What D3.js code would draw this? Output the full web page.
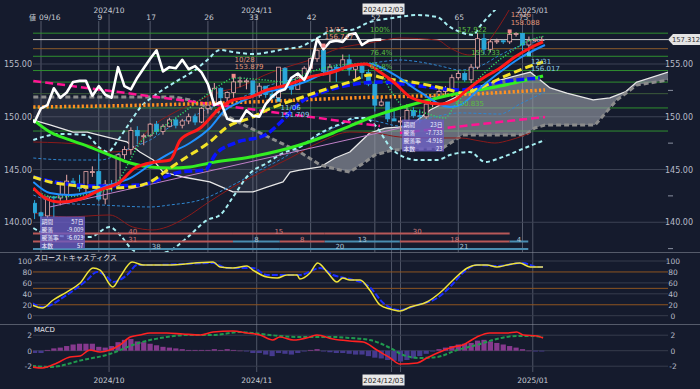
<!DOCTYPE html>
<html>
<head>
<meta charset="utf-8">
<script src="https://cdn.jsdelivr.net/npm/d3@7"></script>
<style>
body { margin: 0; background: #151b2d; }
svg { display: block; }
text { font-family: "DejaVu Sans", sans-serif; }
.jp { font-family: "Noto Sans CJK JP", sans-serif; }
</style>
</head>
<body>
<svg id="chart" width="700" height="389"></svg>
<script>
// ---- data (bar index -1 = 09/13 ... 78 = 2025/01/02) ----
const firstBar = -1;
const opens  = [141.8,140.9,140.6,142.4,142.3,142.6,143.9,143.6,143.2,144.8,144.8,142.2,143.6,143.5,146.4,146.9,148.7,148.2,148.2,149.3,148.6,149.1,149.7,149.2,149.6,150.0,149.5,150.8,151.1,152.7,151.8,152.3,153.3,153.4,153.4,152.0,152.9,152.1,151.8,154.6,152.9,152.6,153.7,154.6,155.5,156.3,154.3,154.7,154.6,155.4,154.5,154.8,154.2,153.1,151.1,151.4,149.8,149.6,149.6,150.6,150.1,150.0,151.2,151.9,152.4,152.6,153.7,154.1,153.5,154.7,157.4,156.4,157.1,157.2,157.1,157.8,157.9,156.8,157.2,157.3];
const highs  = [142.1,141.0,142.4,142.5,143.9,144.5,144.2,144.5,144.8,145.3,146.5,144.0,144.0,146.5,147.2,149.0,149.1,148.4,149.4,149.6,149.3,149.9,149.9,149.8,150.3,150.3,150.9,151.4,153.2,152.8,152.4,153.879,153.8,153.6,153.4,153.2,152.9,152.4,154.7,154.7,153.2,153.9,154.8,155.6,156.4,156.747,155.0,155.0,155.9,155.9,155.0,154.9,154.5,153.5,151.9,151.4,150.8,150.0,151.2,150.9,150.7,151.3,152.0,152.8,152.9,154.0,154.4,154.3,155.0,157.922,157.9,157.3,157.4,157.3,158.088,158.0,157.9,157.6,157.4,157.6];
const lows   = [140.3,139.6,140.4,140.5,141.6,141.8,143.4,142.9,142.8,144.3,142.0,141.7,142.9,143.4,146.0,146.4,147.4,147.3,148.1,148.3,148.3,149.0,148.9,148.9,149.3,149.2,149.4,150.3,151.0,151.5,151.4,151.8,152.8,152.6,151.8,151.8,151.8,151.75,151.709,152.7,152.1,152.6,153.4,154.2,155.2,153.9,153.3,153.3,154.4,153.9,153.6,153.6,152.9,150.5,151.0,149.5,149.6,148.646,149.4,149.9,149.4,149.8,150.9,151.7,151.9,152.5,153.5,153.3,153.2,154.5,155.9,156.1,156.9,156.9,156.9,157.6,156.2,156.017,157.1,157.0];
const closes = [140.9,140.6,142.4,142.3,142.6,143.9,143.6,143.2,144.8,144.8,142.2,143.6,143.5,146.4,146.9,148.7,148.2,148.2,149.3,148.6,149.1,149.7,149.2,149.6,150.0,149.5,150.8,151.1,152.7,151.8,152.3,153.3,153.4,153.4,152.0,152.9,152.1,151.8,154.7,152.9,152.6,153.7,154.6,155.5,156.3,154.3,154.7,154.6,155.4,154.5,154.8,154.2,153.1,151.1,151.4,149.8,149.6,149.6,150.6,150.1,150.0,151.2,151.9,152.4,152.6,153.7,154.1,153.5,154.7,157.4,156.4,157.1,157.2,157.1,157.8,157.9,156.8,157.2,157.3,157.312];
const lastPrice = 157.312;
const chikouShift = 25;

// indicator lines: [bar, price]
const ichiSpanA = [[-1.2,149.69],[1.4,149.22],[5,148.55],[7.2,148.55],[10.3,148.08],[13.4,147.61],[15.4,146.66],[17.5,145.9],[19,144.76],[22.1,144.29],[26.3,143.82],[29.9,142.87],[33,142.87],[35.2,143.34],[37.7,143.82],[38.8,144.76],[40.3,144.95],[43.5,145.24],[45.8,146.09],[48.1,146.66],[51.2,148.46],[53.6,148.93],[57.5,149.12],[60.6,150.64],[63.7,151.59],[67.6,152.73],[71.5,153.48],[76.2,154.24],[79.3,152.73],[81.9,152.25],[86,151.59],[88.6,151.78],[91,152.35],[92.8,153.29],[97.7,154.24]];
const ichiSpanB = [[-1.2,151.87],[20.9,151.87],[23.2,151.59],[27.1,150.64],[31,149.41],[35.7,148.0],[40.3,146.66],[43.5,145.43],[46.6,144.95],[48.1,144.76],[50.5,145.71],[52,146.37],[54.8,146.85],[62.6,147.04],[65.7,148.27],[75.4,148.27],[76.9,148.93],[78.5,149.22],[86.3,149.22],[89.7,151.59],[92.8,153.01],[97.7,153.48]];
const bbOuterUp = [[-1.2,147.8],[3,148.37],[6.9,148.27],[9.2,147.04],[10.4,146.66],[12,147.8],[13.9,149.5],[15.4,150.83],[17.8,152.06],[20.9,153.29],[24,154.43],[25.9,155.38],[27.9,156.33],[29.9,156.14],[33,155.95],[35.7,156.14],[38,156.42],[40.3,156.61],[43,157.46],[45.8,158.22],[48.1,158.22],[51.2,158.98],[54.8,159.36],[58.6,159.64],[61.7,159.45],[63.7,158.51],[65.7,157.94],[67.3,157.75],[68.4,158.6],[70.7,160.12],[71.5,160.6]];
const bbOuterLow = [[-1.2,139.45],[1.4,138.79],[7.6,138.6],[10.7,139.55],[12.3,138.79],[14.3,137.37],[16.5,136.9],[19.6,137.18],[22.7,138.51],[25.9,140.21],[27.9,140.69],[29.9,142.39],[32.6,144.67],[35.2,145.62],[37.7,146.56],[40.3,147.13],[43.5,148.46],[46.6,149.31],[48.9,149.88],[50.5,149.88],[52,149.22],[54.8,146.85],[58.6,145.9],[61.7,145.9],[63.7,146.37],[66.8,146.66],[69.2,145.71],[71.5,146.09],[74.6,146.85],[78.5,147.8]];
const bbInnerUp = [[-1.2,146.09],[4.5,145.9],[9.2,145.9],[13.9,147.04],[17,147.8],[20.1,149.03],[23.2,149.88],[26.3,150.83],[31,151.78],[35.7,153.01],[40.3,153.67],[45,154.24],[48.9,154.72],[52.8,155.19],[55.9,155.38],[59,155.19],[62.2,154.81],[65.3,154.43],[68.4,154.81],[71.5,155.85],[74.6,156.71],[78.5,157.27]];
const bbInnerLow = [[-1.2,142.58],[3,141.82],[9.2,141.64],[17,141.45],[20.1,141.64],[24.8,142.11],[29.9,143.53],[34.1,144.95],[37.7,146.09],[41.9,147.8],[46.6,149.22],[49.7,149.88],[52.8,149.5],[55.9,149.12],[60.6,149.88],[65.3,150.36],[71.5,150.26],[74.6,151.21],[78.5,152.35]];
const envUp = [[-1.2,147.61],[7.6,147.32],[10.7,146.66],[13.9,146.85],[17,148.93],[20.9,150.45],[24.8,151.59],[27.1,152.25],[31,152.82],[34.9,153.96],[38.8,154.81],[41.9,155.38],[46.6,156.52],[51.2,156.99],[55.9,157.46],[61.7,157.27],[63.7,156.52],[66.8,155.85],[69.2,156.8],[71.5,158.7],[73.1,160.31]];
const envLow = [[-1.2,140.88],[4,140.5],[10.7,140.69],[14.3,139.55],[17.4,139.27],[19.6,139.55],[22.7,140.5],[25.9,141.82],[29.9,143.34],[34.1,144.67],[38.8,146.09],[43.5,147.61],[48.1,148.55],[52,148.46],[55.9,148.08],[60.6,147.99],[65.3,147.99],[68.4,147.7],[70.7,147.51],[73.1,147.8],[76.2,148.46]];
const tenkan = [[-1.2,143.06],[2.2,142.39],[7.6,142.68],[10.7,143.25],[12.3,144.19],[13.9,145.9],[15.4,147.51],[17.8,148.55],[20.1,149.5],[24.8,151.59],[27.9,153.01],[30.2,153.67],[34.9,153.48],[38,153.29],[41.9,154.24],[46.6,154.91],[52,155.09],[54.4,152.54],[56.7,150.83],[59.8,150.36],[62.9,149.88],[64.5,151.11],[66.8,152.73],[69.9,154.62],[73.1,156.14],[76.2,157.27],[78.5,157.65]];
const maShort = [[-1.2,143.25],[0.6,142.3],[3,141.92],[6.1,142.2],[9.2,143.06],[12.3,143.82],[14.6,145.14],[17.8,145.71],[20.1,145.9],[21.7,147.8],[24.8,148.93],[27.9,150.83],[29.9,151.59],[32.6,151.87],[35.2,152.54],[38.3,153.01],[41.9,153.77],[45.5,154.24],[48.1,154.81],[50.5,155.0],[52.8,154.24],[55.1,153.2],[57.5,151.87],[59.8,151.4],[62.2,151.21],[64.5,151.59],[66,152.35],[68.4,153.48],[71.5,154.62],[73.8,155.66],[76.2,156.52],[78.2,157.09]];
const maMid = [[-1.2,143.82],[1.4,142.77],[4.5,142.58],[7.6,142.87],[10.7,143.53],[13.9,144.19],[17,145.43],[20.1,146.56],[23.2,147.51],[26.3,148.93],[28.7,150.64],[31,151.4],[34.1,152.16],[38,152.73],[41.1,153.29],[43.5,153.96],[46.6,154.62],[51.2,155.0],[55.1,153.96],[59,152.35],[63.7,150.92],[65.3,151.11],[68.4,152.73],[71.5,154.24],[74.6,155.57],[78.5,156.8]];
const maBlue = [[-1.2,144.29],[3,143.72],[9.2,143.44],[15.4,143.53],[21.7,144.76],[25.6,144.95],[27.1,146.37],[30.2,147.51],[34.9,148.27],[37.7,149.69],[40.3,151.3],[43.5,152.25],[48.1,153.01],[52.8,153.29],[59,152.91],[65.3,152.54],[71.5,153.29],[77.7,153.67]];
const maYellow = [[-1.2,144.29],[1.4,143.82],[4.5,143.53],[7.6,143.34],[10.7,143.25],[13.9,143.34],[17,143.82],[20.1,145.14],[22.7,146.18],[26.3,147.61],[29,149.03],[33,149.98],[35.2,150.64],[40.3,151.78],[45.5,152.82],[48.1,153.29],[51.2,153.96],[53.3,153.67],[58.6,153.2],[63.7,152.54],[65.7,152.25],[68.4,152.73],[72,153.77],[75.4,154.62],[78.2,155.19]];
const maLong = [[-1.2,150.92],[17,151.11],[32.6,151.4],[48.1,151.78],[63.7,152.06],[78.5,152.54]];
const regCurve = [[-1.2,149.7],[1.4,148.55],[4.5,147.8],[7.6,147.13],[10.7,146.37],[13.9,145.62],[17,145.24],[20.1,145.14],[23.2,145.24],[26.3,145.62],[32.6,146.18],[40.3,147.32],[45.5,148.46],[48.1,149.12],[52,150.07],[55.9,150.83],[63.7,152.06],[71.5,152.91],[78.2,153.86]];
const trendDown = [[-1.2,153.39],[52.8,149.12]];
const trendUp = [[55.9,148.46],[78.5,149.98]];
const trendThin = [[1.4,141.45],[55.9,148.93]];

const fibLevels = [157.922,155.733,154.379,153.284,152.19,150.835,148.646];
const fibPctLabels = [["100%",157.922],["76.4%",155.733],["61.8%",154.379]];
const fibPriceLabels = [["157.922",157.922,64.9],["155.733",155.733,67.0],["150.835",150.835,64.5]];
const resistLevel = 156.45;

const priceTicks = [155,150,145,140];
const barTicks = [9,17,26,33,42,52,65,75];
const monthTicks = [["2024/10",10.6],["2024/11",33.6],["2025/01",76.6]];
const monthLineBars = [10.6,33.6,54.6,76.6];
const cursorBar = 56, cursorLabel = "2024/12/03";

const highMarks = [["10/28",30,153.879],["11/15",44,156.747],["12/26",73,158.088]];
const lowMarks = [["11/06",37,151.709],["12/31",76,156.017]];

// wave counts: [fromBar, toBar, label, kind]
const waveRow1 = [[-1.3,29.9,"40","r"],[29.9,44.2,"15","r"],[44.2,73,"30","r"]];
const waveRow2 = [[-1.3,29.9,"31","r"],[29.9,37.2,"8","b"],[37.2,44.2,"8","r"],[44.2,55.9,"13","b"],[55.9,73,"18","r"],[73,75.9,"4","b"]];
const waveRow3 = [[-1.3,37.2,"38","b"],[37.2,55.9,"20","b"],[55.9,75.9,"21","b"]];
const box1 = [["期間","57日"],["騰落","-9.009"],["騰落率","-6.023"],["本数","57"]];
const box2 = [["期間","23日"],["騰落","-7.733"],["騰落率","-4.916"],["本数","23"]];

// slow stochastics [bar, value]
const stochK = [[-1.4,19.6],[0.2,14.1],[1.9,28.7],[4,43.3],[6.1,59.8],[8.1,87.2],[9.2,83.5],[11.2,52.5],[12.3,70.7],[14.2,98.2],[15.9,92.7],[19.6,92.7],[26.8,98.2],[27.9,89],[29.9,87.2],[32.1,90.9],[33,83.5],[35.2,70.7],[36.8,68.9],[38.3,74.4],[39.9,74.4],[40.3,67.1],[41.9,78.1],[43.1,96.3],[44.7,78.1],[46.1,61.6],[47,68.9],[48.1,65.3],[49.7,65.3],[51.2,47],[52.8,19.6],[54.4,12.2],[55.9,8.6],[57.5,15.9],[60.1,25],[62.1,41.5],[64.2,65.3],[66.4,87.2],[67.9,92.7],[69.5,92.7],[71,89],[72.6,92.7],[74.6,96.3],[76.2,89],[78.2,89]];
const stochD = [[-1.4,23.2],[0.3,15.9],[4,37.8],[7.2,65.3],[8.7,79.9],[10.3,70.7],[11.2,61.6],[13.4,74.4],[15,92.7],[17.4,92.7],[26.8,96.3],[29,87.2],[33,87.2],[35.2,74.4],[37.2,74.4],[40.3,74.4],[43.5,87.2],[45.5,74.4],[48.1,67.1],[51.2,52.5],[53.3,23.2],[55.9,10.4],[58.6,19.6],[61.7,32.4],[63.7,52.5],[65.7,78.1],[67.9,92.7],[71,90.9],[75.1,96.3],[77.3,89],[78.2,89]];
const stochTicks = [100,80,60,40,20,0];

// MACD [bar, value]
const macdLine = [[-1.4,-2.1],[0.2,-2.23],[2.5,-1.59],[4.5,-0.81],[6.1,-0.68],[7.6,0.09],[9.2,-0.17],[10.7,0.09],[12.3,0.74],[13.9,1.77],[15.4,2.03],[17,2.28],[19.6,2.28],[22.1,2.15],[24.8,2.03],[26.8,2.41],[29.9,2.54],[32.1,2.28],[34.1,2.03],[36.1,1.38],[37.2,1.77],[39.3,1.38],[41.9,1.77],[43,2.03],[45.5,1.51],[48.1,1.25],[50.2,1.12],[52.3,0.09],[54.4,-0.94],[55.9,-1.72],[58.6,-1.59],[60.1,-0.94],[62.1,-0.17],[64.2,0.48],[65.7,0.74],[67.9,1.77],[69.9,2.28],[72.6,2.28],[74.1,2.41],[75.1,2.03],[77.3,1.9],[78.2,1.64]];
const macdSignal = [[-1.4,-1.97],[1.4,-2.1],[6.5,-1.2],[10.7,-0.43],[14.3,0.74],[17,1.38],[19.6,1.77],[22.7,2.03],[26.8,2.03],[31,2.41],[33,2.28],[37.2,1.9],[40.3,1.77],[45.5,1.77],[48.1,1.64],[51.2,1.38],[54.4,0.35],[56.4,-0.55],[59,-0.94],[61.7,-0.81],[64.8,0.09],[67.9,0.74],[70.4,1.38],[74.1,1.9],[76.2,1.9],[78.2,1.77]];
const macdHist = [-0.3,-0.3,0.1,0.3,0.4,0.6,0.8,0.9,0.9,0.9,0.5,0.4,0.6,1.1,1.4,1.5,1.2,1.1,0.9,0.7,0.5,0.4,0.3,0.2,0.1,0.1,0.1,0.1,0.2,0.1,0.2,0.1,0.0,-0.1,-0.3,-0.3,-0.5,-0.7,-0.3,-0.4,-0.5,-0.3,-0.1,0.1,0.2,-0.1,-0.2,-0.3,-0.3,-0.4,-0.5,-0.5,-0.7,-0.9,-1.0,-1.2,-1.3,-1.4,-1.2,-1.0,-0.7,-0.4,-0.1,0.2,0.4,0.6,0.8,0.9,1.0,1.3,1.4,1.2,1.0,0.8,0.6,0.4,0.2,0.0,-0.1,-0.1];
const macdTicks = [2,0,-2];

// ---- scales ----
const svg = d3.select("#chart");
const W = 700, H = 389, plotL = 33, plotR = 668;
const x = d3.scaleLinear().domain([0, 78]).range([41, 41 + 78 * 6.42]);
const y = d3.scaleLinear().domain([150, 155]).range([116.75, 64]);
const yS = d3.scaleLinear().domain([0, 100]).range([315.7, 261]);
const yM = d3.scaleLinear().domain([-2, 2]).range([366.2, 335.2]);

svg.append("rect").attr("width", W).attr("height", H).attr("fill", "#151b2d");

const defs = svg.append("defs");
function addClip(id, top, bottom) {
  defs.append("clipPath").attr("id", id).append("rect")
    .attr("x", plotL).attr("y", top).attr("width", plotR - plotL).attr("height", bottom - top);
}
addClip("clipMain", 10, 252);
addClip("clipStoch", 253, 323);
addClip("clipMacd", 325, 373);

function hline(g, yy, color, w, x1, x2) {
  g.append("line").attr("x1", x1 === undefined ? plotL : x1).attr("x2", x2 === undefined ? plotR : x2)
    .attr("y1", yy).attr("y2", yy).attr("stroke", color).attr("stroke-width", w || 1);
}
function path(g, data, ys, color, width, dash, curve) {
  g.append("path").datum(data)
    .attr("d", d3.line().x(d => x(d[0])).y(d => ys(d[1])).curve(curve || d3.curveMonotoneX))
    .attr("fill", "none").attr("stroke", color).attr("stroke-width", width)
    .attr("stroke-dasharray", dash || null).attr("stroke-linejoin", "round");
}
function txt(g, tx, ty, s, color, size, anchor, cls) {
  return g.append("text").attr("x", tx).attr("y", ty).text(s).attr("fill", color)
    .attr("font-size", size).attr("text-anchor", anchor || "start").attr("class", cls || null);
}

// ---- panel frames ----
hline(svg, 252.5, "#555b6a", 1, 0, W);
hline(svg, 324.5, "#555b6a", 1, 0, W);

// vertical lines
const vl = svg.append("g");
[0].concat(barTicks).forEach(b => {
  vl.append("line").attr("x1", x(b)).attr("x2", x(b)).attr("y1", 21).attr("y2", 252)
    .attr("stroke", "#8a90a0").attr("stroke-opacity", 0.55);
});
monthLineBars.concat([cursorBar]).forEach(b => {
  vl.append("line").attr("x1", x(b)).attr("x2", x(b)).attr("y1", 14).attr("y2", 372)
    .attr("stroke", "#8a90a0").attr("stroke-opacity", 0.5);
});

// ---- main panel ----
const gm = svg.append("g").attr("clip-path", "url(#clipMain)");
priceTicks.forEach(p => hline(gm, y(p), "#3d4354", 1));
fibLevels.forEach((p, i) => hline(gm, y(p), i === 4 ? "#3b5a3b" : "#2f8f2f", 1));
hline(gm, y(resistLevel), "#8b5a2b", 1);
hline(gm, y(lastPrice), "#c8c8c8", 1);

// cloud
const cloudLine = d3.line().x(d => x(d[0])).y(d => y(d[1]));
const bFirst = ichiSpanB[0][0], bLast = ichiSpanB[ichiSpanB.length - 1][0];
defs.append("clipPath").attr("id", "cloudUp").append("path")
  .attr("d", cloudLine([[bFirst, 170]].concat(ichiSpanB, [[bLast, 170]])));
defs.append("clipPath").attr("id", "cloudDown").append("path")
  .attr("d", cloudLine([[bFirst, 130]].concat(ichiSpanB, [[bLast, 130]])));
const cloudPoly = cloudLine(ichiSpanA.concat(ichiSpanB.slice().reverse())) + "Z";
gm.append("g").attr("clip-path", "url(#cloudUp)").append("path")
  .attr("d", cloudPoly).attr("fill", "#9a9ea8").attr("fill-opacity", 0.62);
gm.append("g").attr("clip-path", "url(#cloudDown)").append("path")
  .attr("d", cloudPoly).attr("fill", "#6c7282").attr("fill-opacity", 0.2);
path(gm, ichiSpanA, y, "#e8e8e8", 1.3, null, d3.curveLinear);
path(gm, ichiSpanB, y, "#8c8c8c", 3, "5,3", d3.curveLinear);

// bands
path(gm, envUp, y, "#8b1a1a", 1);
path(gm, envLow, y, "#8b1a1a", 1);
path(gm, bbInnerUp, y, "#2f86d0", 1, "3,2");
path(gm, bbInnerLow, y, "#2f86d0", 1, "3,2");
path(gm, bbOuterUp, y, "#a6eef2", 2, "4,3");
path(gm, bbOuterLow, y, "#a6eef2", 2, "4,3");

// candles
const cw = 4;
const candles = gm.append("g");
d3.range(opens.length).forEach(i => {
  const b = firstBar + i, o = opens[i], c = closes[i];
  const up = c >= o;
  const col = up ? "#e9a9a9" : "#2ba7d9";
  candles.append("line").attr("x1", x(b)).attr("x2", x(b))
    .attr("y1", y(highs[i])).attr("y2", y(lows[i])).attr("stroke", col);
  const top = y(Math.max(o, c)), bot = y(Math.min(o, c));
  candles.append("rect").attr("x", x(b) - cw / 2).attr("y", top)
    .attr("width", cw).attr("height", Math.max(1, bot - top))
    .attr("fill", up ? "#151b2d" : col).attr("stroke", col).attr("stroke-width", 0.8);
});

// moving averages and lines
path(gm, trendThin, y, "#c080c8", 1, null, d3.curveLinear);
path(gm, tenkan, y, "#33d466", 1.5, "1.2,1.8");
path(gm, trendDown, y, "#ff1493", 2.5, "8,4", d3.curveLinear);
path(gm, trendUp, y, "#ff1493", 2.5, "8,4", d3.curveLinear);
path(gm, maLong, y, "#ff9020", 3.5, "2.2,2.2");
path(gm, regCurve, y, "#33ee22", 3);
path(gm, maBlue, y, "#0a14ff", 3.5, "8,3");
path(gm, maYellow, y, "#f2e227", 3, "8,4");
path(gm, maMid, y, "#1e90ff", 2);
path(gm, maShort, y, "#ff1a1a", 3);

// chikou span
const chikou = closes.map((c, i) => [firstBar + i - chikouShift, c]).filter(d => d[0] >= -2);
path(gm, chikou, y, "#ffffff", 2.6, null, d3.curveLinear);

// high / low marks
highMarks.forEach(m => {
  gm.append("rect").attr("x", x(m[1]) - 2).attr("y", y(m[2]) - 2).attr("width", 4).attr("height", 4).attr("fill", "#f28a8a");
  txt(gm, x(m[1]) + 1, y(m[2]) - 14, m[0], "#e0987a", 7);
  txt(gm, x(m[1]) + 1, y(m[2]) - 6.5, m[2].toFixed(3), "#e0987a", 7);
});
lowMarks.forEach(m => {
  gm.append("rect").attr("x", x(m[1]) - 2).attr("y", y(m[2]) - 1).attr("width", 4).attr("height", 4).attr("fill", "#4cc6f2");
  txt(gm, x(m[1]) + 2, y(m[2]) + 11, m[0], "#8ccbe8", 7);
  txt(gm, x(m[1]) + 2, y(m[2]) + 18, m[2].toFixed(3), "#8ccbe8", 7);
});

// fibonacci labels
fibPctLabels.forEach(f => txt(gm, 370, y(f[1]) - 1.5, f[0], "#5cc040", 7));
fibPriceLabels.forEach(f => txt(gm, x(f[2]), y(f[1]) - 1.5, f[0], "#5cc040", 7));

// wave count bars
[[waveRow1, 233.5], [waveRow2, 241.5], [waveRow3, 249]].forEach(row => {
  row[0].forEach(s => {
    const col = s[3] === "r" ? "#b85858" : "#4a8db0";
    hline(gm, row[1], col, 2, x(s[0]), x(s[1]));
    txt(gm, (x(s[0]) + x(s[1])) / 2, row[1], s[2], s[3] === "r" ? "#d07a7a" : "#a8c4d8", 7, "middle");
  });
});

// measure boxes
function measureBox(bx, by, w, rows) {
  gm.append("rect").attr("x", bx).attr("y", by).attr("width", w).attr("height", 32)
    .attr("fill", "#6a5cc4").attr("fill-opacity", 0.78);
  rows.forEach((r, i) => {
    txt(gm, bx + 1.5, by + 7 + i * 8, r[0], "#f0f0ff", 5.8, "start", "jp");
    txt(gm, bx + w - 1.5, by + 7 + i * 8, r[1], "#f0f0ff", 5.8, "end", "jp");
  });
}
measureBox(40, 216.5, 45, box1);
measureBox(402, 119.5, 42, box2);

// main axes labels
priceTicks.forEach(p => {
  txt(svg, 32, y(p) + 3, p.toFixed(2), "#b8bcc8", 8, "end");
  txt(svg, 665, y(p) + 3, p.toFixed(2), "#b8bcc8", 8);
});
[152.5, 147.5, 142.5, 137.5].forEach(p => hline(svg, y(p), "#8a90a0", 1, 668, 673));

// current price tag
const lp = y(lastPrice);
svg.append("path").attr("d", `M668,${lp} L673,${lp - 5.5} L700,${lp - 5.5} L700,${lp + 5.5} L673,${lp + 5.5} Z`)
  .attr("fill", "#e4e4e4");
txt(svg, 686, lp + 2.6, lastPrice.toFixed(3), "#333333", 6.8, "middle");

// top date row
txt(svg, 29, 20, "値", "#c8ccd4", 7, "start", "jp");
txt(svg, 39, 20, "09/16", "#c8ccd4", 7.5);
barTicks.forEach(b => txt(svg, x(b) + 1, 20, String(b), "#c8ccd4", 7.5, "middle"));
monthTicks.forEach(m => txt(svg, x(m[1]), 12.5, m[0], "#c8ccd4", 7.5, "middle"));
function cursorTag(cy) {
  svg.append("rect").attr("x", x(cursorBar) - 38).attr("y", cy - 5.5).attr("width", 42).attr("height", 11).attr("fill", "#e8e8e8");
  txt(svg, x(cursorBar) - 17, cy + 2.7, cursorLabel, "#222222", 7, "middle");
}
cursorTag(9);

// ---- stochastics ----
const gs = svg.append("g").attr("clip-path", "url(#clipStoch)");
[100, 60, 40, 0].forEach(v => hline(gs, yS(v), "#363c4c", 1));
[80, 50, 20].forEach(v => hline(gs, yS(v), "#8e5520", 1));
path(gs, stochD, yS, "#1a2cff", 2, "6,2");
path(gs, stochK, yS, "#f0e43a", 1.5);
stochTicks.forEach(v => {
  txt(svg, 32, yS(v) + 3, String(v), "#b8bcc8", 7.5, "end");
  txt(svg, 673, yS(v) + 3, String(v), "#b8bcc8", 7.5, "middle");
});
txt(svg, 34, 260, "スローストキャスティクス", "#e4e4ea", 7, "start", "jp");

// ---- MACD ----
const gd = svg.append("g").attr("clip-path", "url(#clipMacd)");
macdTicks.forEach(v => hline(gd, yM(v), "#363c4c", 1));
macdHist.forEach((v, i) => {
  const b = firstBar + i;
  gd.append("rect").attr("x", x(b) - 2.6).attr("width", 5.2)
    .attr("y", Math.min(yM(v), yM(0))).attr("height", Math.max(0.5, Math.abs(yM(v) - yM(0))))
    .attr("fill", v >= 0 ? "#86398e" : "#453a8e");
});
path(gd, macdSignal, yM, "#1f9a4e", 2, "4,2");
path(gd, macdLine, yM, "#ff2222", 1.6);
macdTicks.forEach(v => {
  txt(svg, 32, yM(v) + 3, String(v), "#b8bcc8", 7.5, "end");
  txt(svg, 673, yM(v) + 3, String(v), "#b8bcc8", 7.5, "middle");
});
txt(svg, 34, 332, "MACD", "#e4e4ea", 7);

// bottom dates
monthTicks.forEach(m => txt(svg, x(m[1]), 383, m[0], "#c8ccd4", 7.5, "middle"));
cursorTag(380);
</script>
</body>
</html>
